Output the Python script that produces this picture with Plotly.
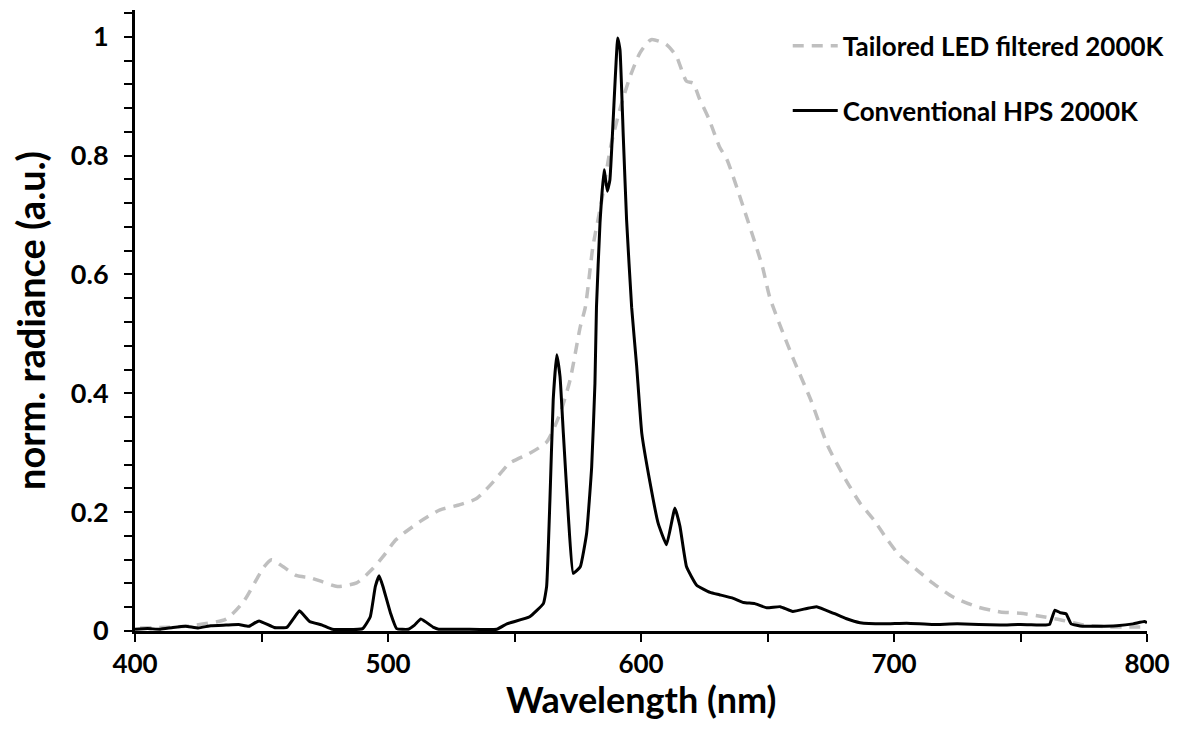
import plotly.graph_objects as go

# Tailored LED filtered 2000K (grey dashed)
led_wl = [402, 420, 436, 443, 451, 454, 458.6, 464, 469, 474, 480, 487.6, 494, 498, 503, 507,
          512.6, 520.6, 528, 535, 541.6, 548, 556, 562.7, 568, 572, 576, 578, 581, 584.5, 588,
          592, 595.7, 599.6, 604, 610, 614, 618, 620.6, 623, 627, 631, 634, 640.4, 648, 651,
          660, 667, 674, 681, 686.6, 692, 697, 702, 709, 715.5, 723, 732.6, 742, 750, 759,
          765.6, 775, 785, 800]
led_val = [0.005, 0.008, 0.02, 0.05, 0.108, 0.12, 0.108, 0.093, 0.09, 0.083, 0.075, 0.081,
           0.105, 0.125, 0.153, 0.167, 0.184, 0.204, 0.212, 0.223, 0.251, 0.282, 0.299, 0.318,
           0.366, 0.423, 0.512, 0.545, 0.647, 0.725, 0.815, 0.883, 0.933, 0.973, 0.995, 0.987,
           0.967, 0.925, 0.922, 0.897, 0.86, 0.815, 0.793, 0.714, 0.613, 0.56, 0.46, 0.39,
           0.31, 0.254, 0.215, 0.187, 0.156, 0.128, 0.103, 0.08, 0.058, 0.041, 0.032, 0.03,
           0.024, 0.019, 0.01, 0.007, 0.007]

# Conventional HPS 2000K (black solid)
hps_wl = [400, 405, 410, 415, 420, 425, 430, 436, 441, 445, 449, 455, 460, 462.5, 465, 469,
          474, 478, 490, 493, 495, 496.5, 498, 501, 503.4, 508, 510.5, 513, 518, 520, 530,
          543, 547, 556, 561.4, 562.7, 564, 565.3, 566.7, 568, 569.3, 571.3, 573.2, 576,
          578.5, 580.5, 581.8, 582.4, 583.8, 585.4, 586.7, 587.7, 589, 590.8, 591.7, 593,
          594.3, 596.3, 598.3, 600.3, 603.6, 606.8, 610.1, 613.4, 615.4, 618, 622, 627.3,
          631, 636.5, 640.5, 645, 649.7, 655, 660, 665.5, 669.4, 676, 681, 686.6, 695.8,
          705, 715, 725, 742, 750, 760, 761.5, 763.6, 765.6, 768, 770, 774.5, 781, 788,
          794.5, 799, 800]
hps_val = [0.003, 0.004, 0.003, 0.006, 0.008, 0.005, 0.009, 0.01, 0.011, 0.008, 0.017, 0.006,
           0.006, 0.02, 0.034, 0.016, 0.01, 0.003, 0.004, 0.024, 0.075, 0.093, 0.075, 0.03,
           0.004, 0.003, 0.01, 0.02, 0.006, 0.003, 0.003, 0.003, 0.012, 0.024, 0.046, 0.075,
           0.22, 0.389, 0.465, 0.428, 0.333, 0.192, 0.097, 0.108, 0.164, 0.276, 0.417, 0.545,
           0.687, 0.776, 0.74, 0.759, 0.86, 0.998, 0.978, 0.832, 0.692, 0.545, 0.445, 0.333,
           0.249, 0.181, 0.145, 0.207, 0.176, 0.108, 0.077, 0.065, 0.061, 0.055, 0.048, 0.046,
           0.039, 0.041, 0.033, 0.038, 0.041, 0.03, 0.021, 0.014, 0.012, 0.013, 0.011, 0.012,
           0.01, 0.011, 0.01, 0.011, 0.035, 0.031, 0.029, 0.012, 0.008, 0.008, 0.009, 0.012,
           0.016, 0.014]

x_ticks = [400, 500, 600, 700, 800]
y_ticks = [0, 0.2, 0.4, 0.6, 0.8, 1]

FONT = "Lato"

fig = go.Figure()
fig.add_trace(go.Scatter(
    x=led_wl, y=led_val, mode="lines", name="Tailored LED filtered 2000K",
    line=dict(color="#bfbfbf", width=3.5, dash="11px,8px", shape="spline", smoothing=0.6),
    legendgroup="a"))
fig.add_trace(go.Scatter(
    x=hps_wl, y=hps_val, mode="lines", name="Conventional HPS 2000K",
    line=dict(color="#000000", width=3, shape="spline", smoothing=0.35), legendgroup="b"))

fig.update_layout(
    width=1182, height=742,
    margin=dict(l=135, r=35, t=10, b=111),
    paper_bgcolor="white", plot_bgcolor="white",
    font=dict(family=FONT, size=27, color="black", weight="bold"),
    showlegend=True,
    legend=dict(x=0.645, y=0.98, xanchor="left", yanchor="top",
                font=dict(family=FONT, size=26, weight="bold", color="black"),
                bgcolor="rgba(0,0,0,0)", traceorder="grouped", tracegroupgap=28,
                itemwidth=45),
    xaxis=dict(
        range=[400, 800], tickvals=x_ticks, ticks="outside", ticklen=8, tickwidth=2,
        tickcolor="black", showline=True, linecolor="black", linewidth=3,
        showgrid=False, zeroline=False,
        minor=dict(dtick=50, tick0=400, ticks="outside", ticklen=8, tickwidth=2, tickcolor="black"),
        tickfont=dict(family=FONT, size=26, weight="bold"),
    ),
    yaxis=dict(
        range=[0, 1.045], tickvals=y_ticks, ticks="outside", ticklen=8, tickwidth=2,
        tickcolor="black", showline=True, linecolor="black", linewidth=3,
        showgrid=False, zeroline=False,
        minor=dict(dtick=0.04, tick0=0, ticks="outside", ticklen=8, tickwidth=2, tickcolor="black"),
        tickfont=dict(family=FONT, size=27, weight="bold"),
        ticklabelstandoff=10,
        title=dict(text="norm. radiance (a.u.)", font=dict(family=FONT, size=38, weight="bold"), standoff=14),
    ),
    annotations=[dict(text="Wavelength (nm)", xref="paper", yref="paper", x=0.5, y=0,
                      xanchor="center", yanchor="middle", yshift=-68, showarrow=False,
                      font=dict(family=FONT, size=36, weight="bold", color="black"))],
)

fig.write_html("out.html")
